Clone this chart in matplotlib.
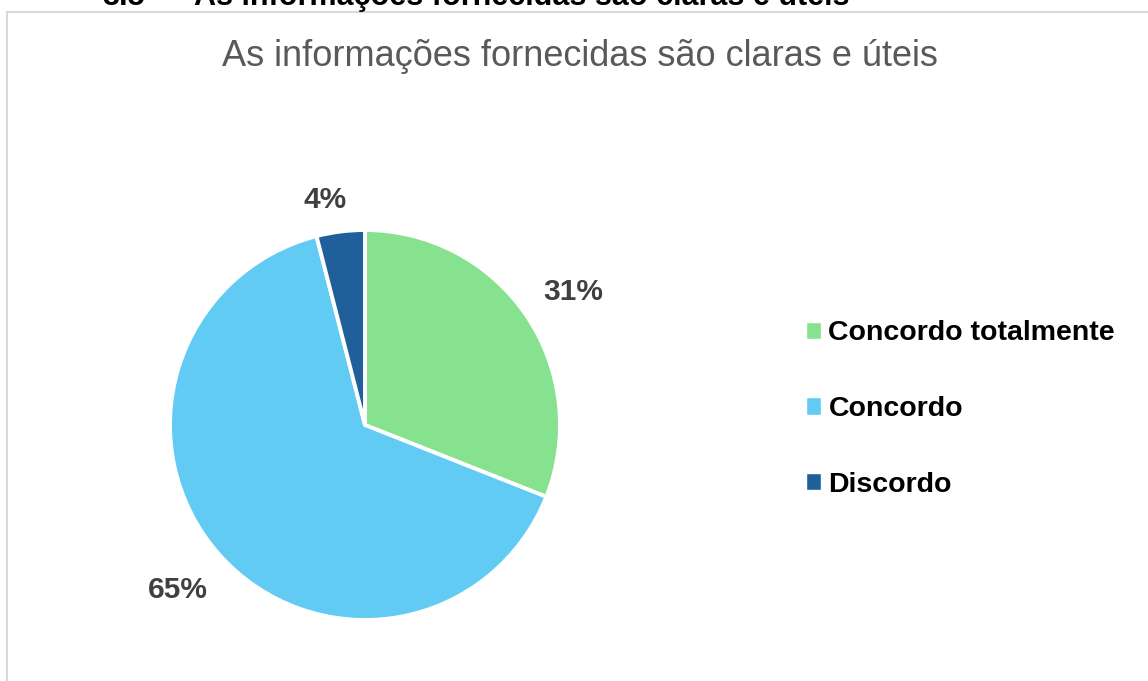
import numpy as np
import matplotlib.pyplot as plt
from matplotlib.patches import Rectangle

# Data
labels = ['Concordo totalmente', 'Concordo', 'Discordo']
shares = [31, 65, 4]
colors = ['#86E28F', '#61CBF4', '#215F9A']
label_dist = [1.27, 1.28, 1.17]
label_turn = [-1.6, 0.0, 3.0]   # small angular nudge of the % labels (deg)

title = 'As informações fornecidas são claras e úteis'
heading_num = '3.5'

W, H = 1148, 681
plt.rcParams['font.family'] = ['Liberation Sans', 'DejaVu Sans']

fig = plt.figure(figsize=(W / 100, H / 100), dpi=100)

# chart frame (light gray border, continues past right/bottom edge)
fig.patches.append(Rectangle((7 / W, -0.1), 1.2, 1 - 12 / H + 0.1,
                             transform=fig.transFigure, fill=False,
                             edgecolor='#D9D9D9', linewidth=1.5))

# document heading cut off at top of the screenshot
fig.text(102 / W, 1 - 5 / H, heading_num, fontsize=22, fontweight='bold',
         color='black', va='baseline')
fig.text(194 / W, 1 - 5 / H, title, fontsize=22, fontweight='bold',
         color='black', va='baseline')

# chart title
fig.text(580 / W, 1 - 56 / H, title, fontsize=26, color='#595959',
         ha='center', va='center')

# pie axes: center (365, 425) px, radius 195 px
cx, cy, r = 365, 425, 195
ax = fig.add_axes([(cx - r) / W, (H - cy - r) / H, 2 * r / W, 2 * r / H])
wedges, _ = ax.pie(shares, colors=colors, startangle=90, counterclock=False,
                   radius=1, wedgeprops=dict(edgecolor='white', linewidth=2.8))
ax.set_xlim(-1, 1)
ax.set_ylim(-1, 1)
ax.set_aspect('equal')
ax.axis('off')

for w, val, d, t in zip(wedges, shares, label_dist, label_turn):
    mid = np.deg2rad((w.theta1 + w.theta2) / 2 + t)
    ax.text(d * np.cos(mid), d * np.sin(mid), f'{val}%', ha='center',
            va='center', fontsize=21.5, fontweight='bold', color='#404040',
            clip_on=False)

leg = fig.legend(wedges, labels, loc='center left',
                 bbox_to_anchor=(780 / W, 1 - 409 / H), frameon=False,
                 prop=dict(size=20.5, weight='bold'), handlelength=0.55,
                 handleheight=0.55, handletextpad=0.25, labelspacing=1.75)
for h in leg.legend_handles:
    h.set_linewidth(1.0)

fig.savefig('out.png', dpi=100)
